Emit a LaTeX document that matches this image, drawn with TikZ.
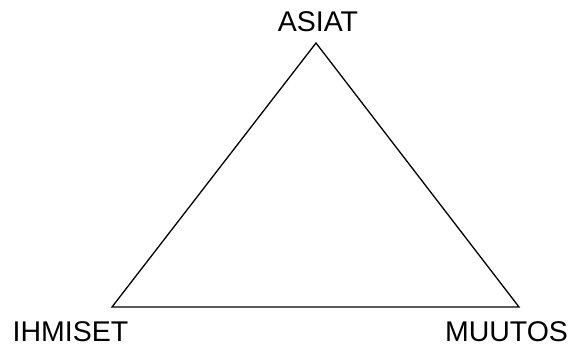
\documentclass[tikz,border=0pt]{standalone}
\usepackage{fontspec}
\setmainfont{Liberation Sans}
\begin{document}
\begin{tikzpicture}[x=1pt,y=-1pt,
  lbl/.style={inner sep=0pt,anchor=base,text depth=0pt,font=\fontsize{28.5}{32}\selectfont},
  edge/.style={line width=1.3pt,line join=miter}]
\useasboundingbox (0,0) rectangle (571,347);
\coordinate (top) at (316,43);
\coordinate (bl) at (112,307);
\coordinate (br) at (519,307);
\draw[edge] (top) -- (bl) -- (br) -- cycle;
\node[lbl] (asiat) at (318,32) {ASIAT};
\node[lbl] (ihmiset) at (70.5,342) {IHMISET};
\node[lbl] (muutos) at (506.5,342) {MUUTOS};
\end{tikzpicture}
\end{document}
